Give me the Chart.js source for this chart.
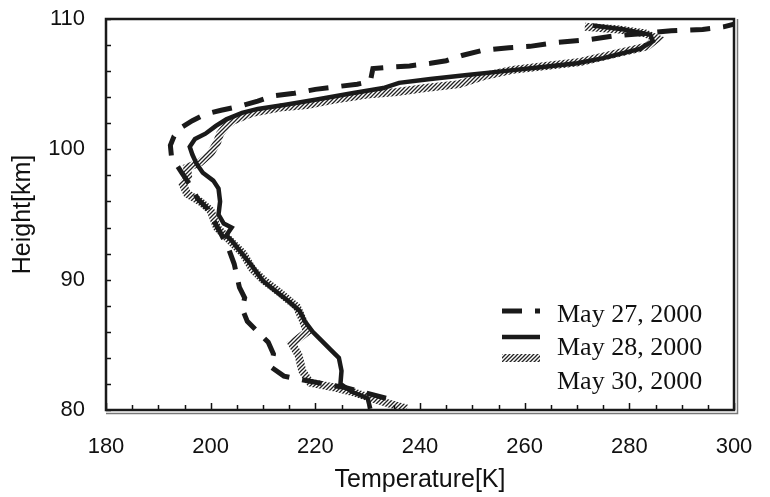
<!DOCTYPE html>
<html>
<head>
<meta charset="utf-8">
<script src="https://cdn.jsdelivr.net/npm/chart.js@4.4.1/dist/chart.umd.min.js"></script>
<style>
	body{margin:0;background:#fff;}
	#wrap{width:770px;height:497px;}
</style>
</head>
<body>
<div id="wrap"><canvas id="myChart" width="770" height="497"></canvas></div>
<script>
// 温度剖面
var seriesNames = ['May 27, 2000', 'May 28, 2000', 'May 30, 2000'];
var xTicks = [180, 200, 220, 240, 260, 280, 300];
var yTicks = [80, 90, 100, 110];

var may27Temp = [233.5, 226, 219, 214, 211.5, 212, 211, 209, 207, 206, 206.5, 205.5, 205, 204.5, 203.5, 202, 200.5, 199.5, 197.5, 196.5, 194.5, 193.5, 192.5, 192.3, 193, 194.5, 196.5, 199, 202, 205.5, 209, 212, 216, 220, 224, 228, 230.5, 231, 234, 238, 242, 245, 248, 252, 257, 261, 266, 272, 277, 283, 288, 294, 298, 300];
var may27Height = [80.9, 81.7, 82.2, 82.6, 83.3, 84.3, 85.2, 86.0, 86.8, 87.8, 88.6, 89.4, 90.3, 91.2, 92.3, 93.5, 94.6, 95.4, 96.2, 97.0, 98.2, 98.8, 99.5, 100.3, 101.0, 101.7, 102.2, 102.7, 103.0, 103.3, 103.7, 104.1, 104.3, 104.6, 104.8, 105.0, 105.2, 106.2, 106.3, 106.4, 106.6, 106.8, 107.2, 107.6, 107.8, 107.9, 108.2, 108.4, 108.7, 108.9, 109.1, 109.2, 109.4, 109.6];

var may28Temp = [230.5, 230, 227, 224.8, 225, 224.5, 223, 221, 219.5, 218, 217, 215, 212.5, 210, 208, 206, 204, 203, 204, 202.5, 201.5, 201.8, 201.5, 200.5, 198.5, 197.3, 196.5, 196, 197, 199, 201, 203, 206, 209, 214, 220, 227, 233, 236, 242, 249, 256, 263, 270, 275, 279, 282, 284.5, 284, 279, 273];
var may28Height = [80.1, 80.9, 81.4, 82.0, 83.0, 84.0, 84.6, 85.4, 86.0, 86.8, 87.6, 88.3, 89.1, 89.9, 91.0, 92.0, 93.0, 93.4, 94.0, 94.3, 95.0, 96.0, 97.0, 97.6, 98.2, 98.9, 99.6, 100.2, 100.8, 101.2, 101.8, 102.3, 102.8, 103.1, 103.4, 103.8, 104.3, 104.7, 105.1, 105.4, 105.7, 106.0, 106.3, 106.6, 107.0, 107.4, 107.7, 108.3, 108.8, 109.2, 109.5];

var may30Temp = [237.5, 234, 230, 227, 224, 219, 217.5, 216.8, 215.5, 218.4, 217.6, 216.5, 215, 213.2, 210, 208, 206.2, 203.7, 201.2, 200, 198, 195.5, 194.7, 195.7, 195.5, 198, 200, 201.2, 201.8, 203, 204.3, 208, 213.2, 218.4, 223.4, 229.9, 235.6, 241, 247.5, 252, 257.7, 264, 270.6, 277, 283.4, 285.3, 283, 278, 271.5];
var may30Height = [80.1, 80.5, 81.0, 81.4, 81.7, 82.1, 83.0, 84.2, 85.1, 86.0, 86.9, 87.9, 88.4, 89.0, 90.0, 90.8, 92.0, 93.0, 94.0, 95.3, 96.0, 96.6, 97.3, 97.9, 98.6, 99.0, 99.7, 100.5, 101.2, 101.8, 102.2, 102.8, 103.2, 103.4, 103.8, 104.2, 104.4, 104.7, 105.0, 105.6, 106.1, 106.4, 106.7, 107.3, 107.9, 108.5, 108.9, 109.2, 109.4];

function toPoints(t, h){
	var pts = [];
	for(var i = 0; i < t.length; i++){
		pts.push({x:t[i], y:h[i]});
	}
	return pts;
}

// 斜线填充
function makeHatch(){
	var c = document.createElement('canvas');
	c.width = 4; c.height = 4;
	var g = c.getContext('2d');
	g.fillStyle = '#fff';
	g.fillRect(0, 0, 4, 4);
	g.strokeStyle = '#222';
	g.lineWidth = 1.3;
	g.beginPath();
	g.moveTo(0, 4); g.lineTo(4, 0);
	g.moveTo(-1, 1); g.lineTo(1, -1);
	g.moveTo(3, 5); g.lineTo(5, 3);
	g.stroke();
	return g.createPattern(c, 'repeat');
}
var hatch = makeHatch();

var tickFont = {family:'"Liberation Sans", Arial, sans-serif', size:22};
var titleFont = {family:'"Liberation Sans", Arial, sans-serif', size:25};

function noPad(s){
	s.paddingTop = 0; s.paddingBottom = 0;
	s.paddingLeft = 0; s.paddingRight = 0;
}

// 边框、刻度、图例
var framePlugin = {
	id:'frame',
	afterDraw: function(chart){
		var ctx = chart.ctx;
		var a = chart.chartArea;
		var sx = chart.scales.x, sy = chart.scales.y;
		ctx.save();
		ctx.strokeStyle = '#111';
		ctx.lineWidth = 1.5;
		ctx.beginPath();
		for(var v = 180; v <= 300; v += 5){
			var px = Math.round(sx.getPixelForValue(v)) + 0.5;
			ctx.moveTo(px, a.bottom);
			ctx.lineTo(px, a.bottom - (v % 20 === 0 ? 7 : 5));
		}
		for(var h = 80; h <= 110; h += 2){
			var py = Math.round(sy.getPixelForValue(h)) + 0.5;
			ctx.moveTo(a.left, py);
			ctx.lineTo(a.left + 5, py);
		}
		ctx.stroke();
		ctx.lineWidth = 2.5;
		ctx.strokeStyle = '#1a1a1a';
		ctx.strokeRect(a.left, a.top, a.right - a.left, a.bottom - a.top);
		ctx.lineWidth = 1.5;
		ctx.strokeStyle = '#777';
		ctx.beginPath();
		ctx.moveTo(a.left, a.bottom + 3.5);
		ctx.lineTo(a.right + 3.5, a.bottom + 3.5);
		ctx.lineTo(a.right + 3.5, a.top);
		ctx.stroke();

		// 图例
		var lx = a.right - 232, tx = a.right - 177;
		var rows = [
			{y:311, ty:315, ds:chart.data.datasets[0]},
			{y:337, ty:348, ds:chart.data.datasets[1]},
			{y:358, ty:382, ds:chart.data.datasets[2]}
		];
		ctx.font = '26px "Liberation Serif", "Times New Roman", serif';
		ctx.textBaseline = 'middle';
		ctx.fillStyle = '#111';
		rows.forEach(function(r){
			ctx.save();
			ctx.strokeStyle = r.ds.borderColor;
			ctx.lineWidth = r.ds.borderWidth;
			ctx.setLineDash(r.ds.borderDash || []);
			ctx.beginPath();
			ctx.moveTo(lx, r.y);
			ctx.lineTo(lx + 38, r.y);
			ctx.stroke();
			ctx.restore();
			ctx.fillText(r.ds.label, tx, r.ty);
		});
		ctx.restore();
	}
};

var ctx = document.getElementById('myChart').getContext('2d');
var myChart = new Chart(ctx, {
	type:'scatter',
	data:{
		datasets:[
			{label:seriesNames[0], data:toPoints(may27Temp, may27Height), showLine:true, borderColor:'#1a1a1a', borderWidth:5, borderDash:[20, 13], pointRadius:0, tension:0},
			{label:seriesNames[1], data:toPoints(may28Temp, may28Height), showLine:true, borderColor:'#1a1a1a', borderWidth:4.5, pointRadius:0, tension:0},
			{label:seriesNames[2], data:toPoints(may30Temp, may30Height), showLine:true, borderColor:hatch, borderWidth:8, pointRadius:0, tension:0}
		]
	},
	options:{
		responsive:false,
		animation:false,
		devicePixelRatio:1,
		layout:{padding:{left:0, top:19, right:36, bottom:0}},
		plugins:{legend:{display:false}, tooltip:{enabled:false}},
		scales:{
			x:{
				type:'linear', min:180, max:300,
				afterFit: function(s){ s.height = 87; noPad(s); },
				afterBuildTicks: function(s){ s.ticks = xTicks.map(function(v){ return {value:v}; }); },
				grid:{display:false, drawTicks:false},
				border:{display:false},
				ticks:{font:tickFont, color:'#111', padding:24, maxRotation:0},
				title:{display:true, text:'Temperature[K]', font:titleFont, color:'#111', padding:{top:0, bottom:2}}
			},
			y:{
				type:'linear', min:80, max:110,
				afterFit: function(s){ s.width = 106; noPad(s); },
				afterBuildTicks: function(s){ s.ticks = yTicks.map(function(v){ return {value:v}; }); },
				grid:{display:false, drawTicks:false},
				border:{display:false},
				ticks:{font:tickFont, color:'#111', padding:21},
				title:{display:true, text:'Height[km]', font:titleFont, color:'#111', padding:{top:8, bottom:0}}
			}
		}
	},
	plugins:[framePlugin]
});
</script>
</body>
</html>
